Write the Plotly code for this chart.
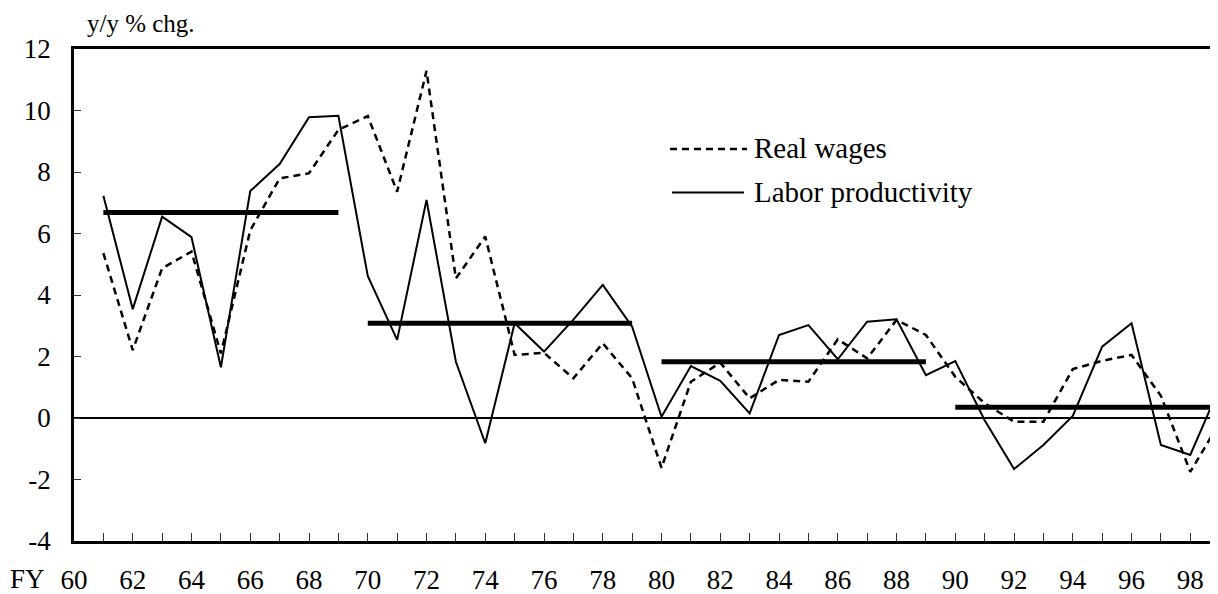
import plotly.graph_objects as go

# ---- data ----
years = list(range(61, 100))
real_wages = [5.36, 2.21, 4.87, 5.41, 2.1, 6.1, 7.79, 7.96, 9.37,
              9.82, 7.36, 11.29, 4.54, 5.90, 2.05, 2.12, 1.29, 2.43, 1.29,
              -1.62, 1.18, 1.80, 0.64, 1.24, 1.18, 2.56, 1.94, 3.19, 2.70,
              1.34, 0.48, -0.12, -0.12, 1.59, 1.86, 2.05, 0.72, -1.75, -0.15]
labor_productivity = [7.23, 3.54, 6.55, 5.88, 1.65, 7.38, 8.26, 9.78, 9.83,
                      4.62, 2.54, 7.09, 1.83, -0.82, 3.08, 2.16, 3.20, 4.33, 2.97,
                      0.04, 1.69, 1.21, 0.15, 2.70, 3.02, 1.91, 3.13, 3.21, 1.39,
                      1.85, -0.07, -1.66, -0.88, 0.07, 2.32, 3.08, -0.88, -1.20, 1.00]
period_start = [61, 70, 80, 90]
period_end = [69, 79, 89, 99]
period_avg = [6.68, 3.08, 1.83, 0.35]

tick_years = list(range(60, 100))
tick_labels = [str(y) if y % 2 == 0 else "" for y in tick_years]
y_tick_vals = [-4, -2, 0, 2, 4, 6, 8, 10, 12]
y_tick_labels = ["-4", "-2", "0", "2", "4", "6", "8", "10", "12"]

FONT = "Liberation Serif, Times New Roman, serif"
OFF = 8  # default page body margin
W, H = 1218 - OFF, 594 - OFF
L, R, T, B = 74 - OFF, 0, 49 - OFF, 594 - 541
PW, PH = W - L - R, H - T - B

def px(x):
    return (x - OFF - L) / PW

def py(y):
    return 1 - (y - OFF - T) / PH

fig = go.Figure()

fig.add_trace(go.Scatter(x=years, y=real_wages, mode="lines", name="Real wages",
                         line=dict(color="black", width=2.5, dash="7px,5px"),
                         showlegend=False, hoverinfo="skip"))
fig.add_trace(go.Scatter(x=years, y=labor_productivity, mode="lines", name="Labor productivity",
                         line=dict(color="black", width=2), showlegend=False, hoverinfo="skip"))

for s, e, a in zip(period_start, period_end, period_avg):
    fig.add_trace(go.Scatter(x=[s, e], y=[a, a], mode="lines",
                             line=dict(color="black", width=5),
                             showlegend=False, hoverinfo="skip"))

# manual legend (key samples)
fig.add_shape(type="line", xref="paper", yref="paper",
              x0=px(670), x1=px(747), y0=py(149), y1=py(149),
              line=dict(color="black", width=2.5, dash="7px,5px"))
fig.add_shape(type="line", xref="paper", yref="paper",
              x0=px(672), x1=px(744), y0=py(192.5), y1=py(192.5),
              line=dict(color="black", width=2))
fig.add_annotation(text="Real wages", xref="paper", yref="paper",
                   x=px(752), y=py(148), xanchor="left", yanchor="middle",
                   showarrow=False, font=dict(family=FONT, size=29, color="black"))
fig.add_annotation(text="Labor productivity", xref="paper", yref="paper",
                   x=px(752), y=py(192), xanchor="left", yanchor="middle",
                   showarrow=False, font=dict(family=FONT, size=29, color="black"))

fig.add_annotation(text="y/y % chg.", xref="paper", yref="paper",
                   x=px(85), y=py(23), xanchor="left", yanchor="middle",
                   showarrow=False, font=dict(family=FONT, size=25, color="black"))
fig.add_annotation(text="FY", xref="paper", yref="paper",
                   x=px(27.5), y=py(579), xanchor="center", yanchor="middle",
                   showarrow=False, font=dict(family=FONT, size=27, color="black"))

fig.update_layout(
    width=W, height=H,
    margin=dict(l=L, r=R, t=T, b=B),
    paper_bgcolor="white", plot_bgcolor="white",
    font=dict(family=FONT, size=27, color="black"),
)
fig.update_xaxes(range=[60, 60 + PW / 29.376], tickmode="array",
                 tickvals=tick_years, ticktext=tick_labels,
                 ticks="inside", ticklen=8, tickwidth=1, tickcolor="#333",
                 showline=True, linecolor="black", linewidth=2.5, mirror=True,
                 showgrid=False, zeroline=False, ticklabelstandoff=13, automargin=False,
                 tickfont=dict(family=FONT, size=27, color="black"))
fig.update_yaxes(range=[-4, 12], tickmode="array",
                 tickvals=y_tick_vals, ticktext=y_tick_labels,
                 ticks="inside", ticklen=7, tickwidth=1, tickcolor="#333",
                 showline=True, linecolor="black", linewidth=2.5,
                 showgrid=False, zeroline=True, zerolinecolor="black", zerolinewidth=2,
                 ticklabelstandoff=15, automargin=False,
                 tickfont=dict(family=FONT, size=27, color="black"))

fig.write_html("out.html")
